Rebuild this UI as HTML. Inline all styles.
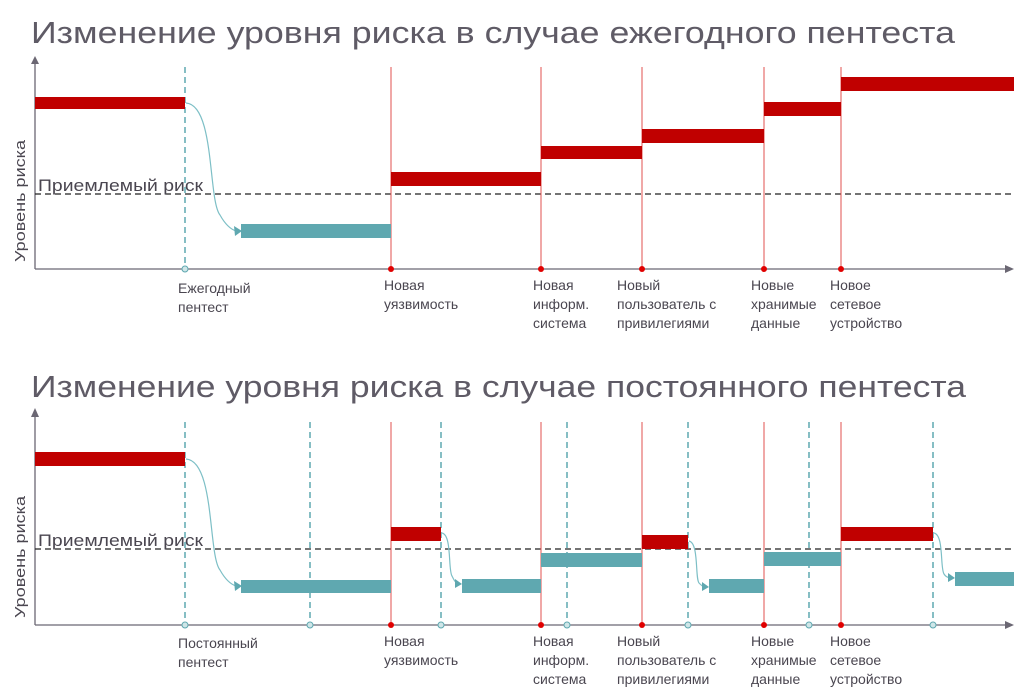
<!DOCTYPE html>
<html><head><meta charset="utf-8"><style>
html,body{margin:0;padding:0;background:#fff;}
svg{display:block;font-family:"Liberation Sans","DejaVu Sans",sans-serif;}
.t{font-size:31px;fill:#5f5b66;}
.l{font-size:14px;fill:#4a4650;}
.ax{stroke:#6b6773;stroke-width:1.3;fill:none;}
.dash{stroke:#222;stroke-width:1.2;stroke-dasharray:6,4;}
.tv{stroke:#5fa8b0;stroke-width:1.5;stroke-dasharray:6,4;}
.rv{stroke:#e0504f;stroke-width:1;}
.r{fill:#c00000;}
.g{fill:#5fa8b0;}
.cv{stroke:#7dbfc6;stroke-width:1.2;fill:none;}
</style></head><body>
<svg width="1024" height="696" viewBox="0 0 1024 696">
<text class="t" x="31" y="43" textLength="924" lengthAdjust="spacingAndGlyphs">Изменение уровня риска в случае ежегодного пентеста</text>
<text class="t" x="31" y="397" textLength="935" lengthAdjust="spacingAndGlyphs">Изменение уровня риска в случае постоянного пентеста</text>

<!-- TOP CHART -->
<line class="ax" x1="35" y1="269" x2="35" y2="62"/>
<polygon points="35,56 31,64 39,64" fill="#6b6773"/>
<line class="ax" x1="35" y1="269" x2="1006" y2="269"/>
<polygon points="1014,269 1005,265 1005,273" fill="#6b6773"/>
<text class="l" transform="translate(25,262) rotate(-90)" style="font-size:15px" textLength="122" lengthAdjust="spacingAndGlyphs">Уровень риска</text>
<line class="dash" x1="35" y1="194" x2="1014" y2="194"/>
<text class="l" x="38" y="191" style="font-size:17px" textLength="165" lengthAdjust="spacingAndGlyphs">Приемлемый риск</text>
<line class="tv" x1="185" y1="67" x2="185" y2="269"/>
<g class="rv"><line x1="391" y1="67" x2="391" y2="269"/><line x1="541" y1="67" x2="541" y2="269"/><line x1="642" y1="67" x2="642" y2="269"/><line x1="764" y1="67" x2="764" y2="269"/><line x1="841" y1="67" x2="841" y2="269"/></g>
<rect class="r" x="35" y="97" width="150" height="12"/>
<rect class="g" x="241" y="224" width="150" height="14"/>
<rect class="r" x="391" y="172" width="150" height="14"/>
<rect class="r" x="541" y="146" width="101" height="13"/>
<rect class="r" x="642" y="129" width="122" height="14"/>
<rect class="r" x="764" y="102" width="77" height="14"/>
<rect class="r" x="841" y="77" width="173" height="14"/>
<path class="cv" d="M186,103 C215,105 208,200 220,215 C225,224 230,229 236,231"/>
<polygon points="242,231 234,226 235,236" fill="#5fa8b0"/>
<circle cx="185" cy="269" r="3" fill="#cfe6e8" stroke="#5fa8b0"/>
<g fill="#e00000"><circle cx="391" cy="269" r="3"/><circle cx="541" cy="269" r="3"/><circle cx="642" cy="269" r="3"/><circle cx="764" cy="269" r="3"/><circle cx="841" cy="269" r="3"/></g>
<g class="l">
<text x="178" y="293">Ежегодный</text><text x="178" y="312">пентест</text>
<text x="384" y="290">Новая</text><text x="384" y="309">уязвимость</text>
<text x="533" y="290">Новая</text><text x="533" y="309">информ.</text><text x="533" y="328">система</text>
<text x="617" y="290">Новый</text><text x="617" y="309">пользователь с</text><text x="617" y="328">привилегиями</text>
<text x="751" y="290">Новые</text><text x="751" y="309">хранимые</text><text x="751" y="328">данные</text>
<text x="830" y="290">Новое</text><text x="830" y="309">сетевое</text><text x="830" y="328">устройство</text>
</g>

<!-- BOTTOM CHART -->
<line class="ax" x1="35" y1="625" x2="35" y2="415"/>
<polygon points="35,408 31,417 39,417" fill="#6b6773"/>
<line class="ax" x1="35" y1="625" x2="1006" y2="625"/>
<polygon points="1014,625 1005,621 1005,629" fill="#6b6773"/>
<text class="l" transform="translate(25,618) rotate(-90)" style="font-size:15px" textLength="122" lengthAdjust="spacingAndGlyphs">Уровень риска</text>
<line class="dash" x1="35" y1="549" x2="1014" y2="549"/>
<text class="l" x="38" y="546" style="font-size:17px" textLength="165" lengthAdjust="spacingAndGlyphs">Приемлемый риск</text>
<g class="tv"><line x1="185" y1="422" x2="185" y2="625"/><line x1="310" y1="422" x2="310" y2="625"/><line x1="441" y1="422" x2="441" y2="625"/><line x1="567" y1="422" x2="567" y2="625"/><line x1="688" y1="422" x2="688" y2="625"/><line x1="809" y1="422" x2="809" y2="625"/><line x1="933" y1="422" x2="933" y2="625"/></g>
<g class="rv"><line x1="391" y1="422" x2="391" y2="625"/><line x1="541" y1="422" x2="541" y2="625"/><line x1="642" y1="422" x2="642" y2="625"/><line x1="764" y1="422" x2="764" y2="625"/><line x1="841" y1="422" x2="841" y2="625"/></g>
<rect class="r" x="35" y="452" width="150" height="14"/>
<rect class="g" x="241" y="580" width="150" height="13"/>
<rect class="r" x="391" y="527" width="50" height="14"/>
<rect class="g" x="462" y="579" width="79" height="14"/>
<rect class="g" x="541" y="553" width="101" height="14"/>
<rect class="r" x="642" y="535" width="46" height="14"/>
<rect class="g" x="709" y="579" width="55" height="14"/>
<rect class="g" x="764" y="552" width="77" height="14"/>
<rect class="r" x="841" y="527" width="92" height="14"/>
<rect class="g" x="955" y="572" width="59" height="14"/>
<path class="cv" d="M186,459 C215,461 208,555 220,570 C225,579 230,584 236,586"/>
<polygon points="242,586 234,581 235,591" fill="#5fa8b0"/>
<path class="cv" d="M442,533 C452,535 448,570 452,576 C454,580 455,582 457,583"/>
<polygon points="462,584 455,579 455,588" fill="#5fa8b0"/>
<path class="cv" d="M689,541 C699,543 695,578 699,583 C701,585 702,586 704,587"/>
<polygon points="709,587 702,582 702,591" fill="#5fa8b0"/>
<path class="cv" d="M934,533 C944,535 940,568 944,574 C946,577 947,577 950,578"/>
<polygon points="955,578 948,573 948,582" fill="#5fa8b0"/>
<g fill="#cfe6e8" stroke="#5fa8b0"><circle cx="185" cy="625" r="3"/><circle cx="310" cy="625" r="3"/><circle cx="441" cy="625" r="3"/><circle cx="567" cy="625" r="3"/><circle cx="688" cy="625" r="3"/><circle cx="809" cy="625" r="3"/><circle cx="933" cy="625" r="3"/></g>
<g fill="#e00000"><circle cx="391" cy="625" r="3"/><circle cx="541" cy="625" r="3"/><circle cx="642" cy="625" r="3"/><circle cx="764" cy="625" r="3"/><circle cx="841" cy="625" r="3"/></g>
<g class="l">
<text x="178" y="648">Постоянный</text><text x="178" y="667">пентест</text>
<text x="384" y="646">Новая</text><text x="384" y="665">уязвимость</text>
<text x="533" y="646">Новая</text><text x="533" y="665">информ.</text><text x="533" y="684">система</text>
<text x="617" y="646">Новый</text><text x="617" y="665">пользователь с</text><text x="617" y="684">привилегиями</text>
<text x="751" y="646">Новые</text><text x="751" y="665">хранимые</text><text x="751" y="684">данные</text>
<text x="830" y="646">Новое</text><text x="830" y="665">сетевое</text><text x="830" y="684">устройство</text>
</g>
</svg>
</body></html>
